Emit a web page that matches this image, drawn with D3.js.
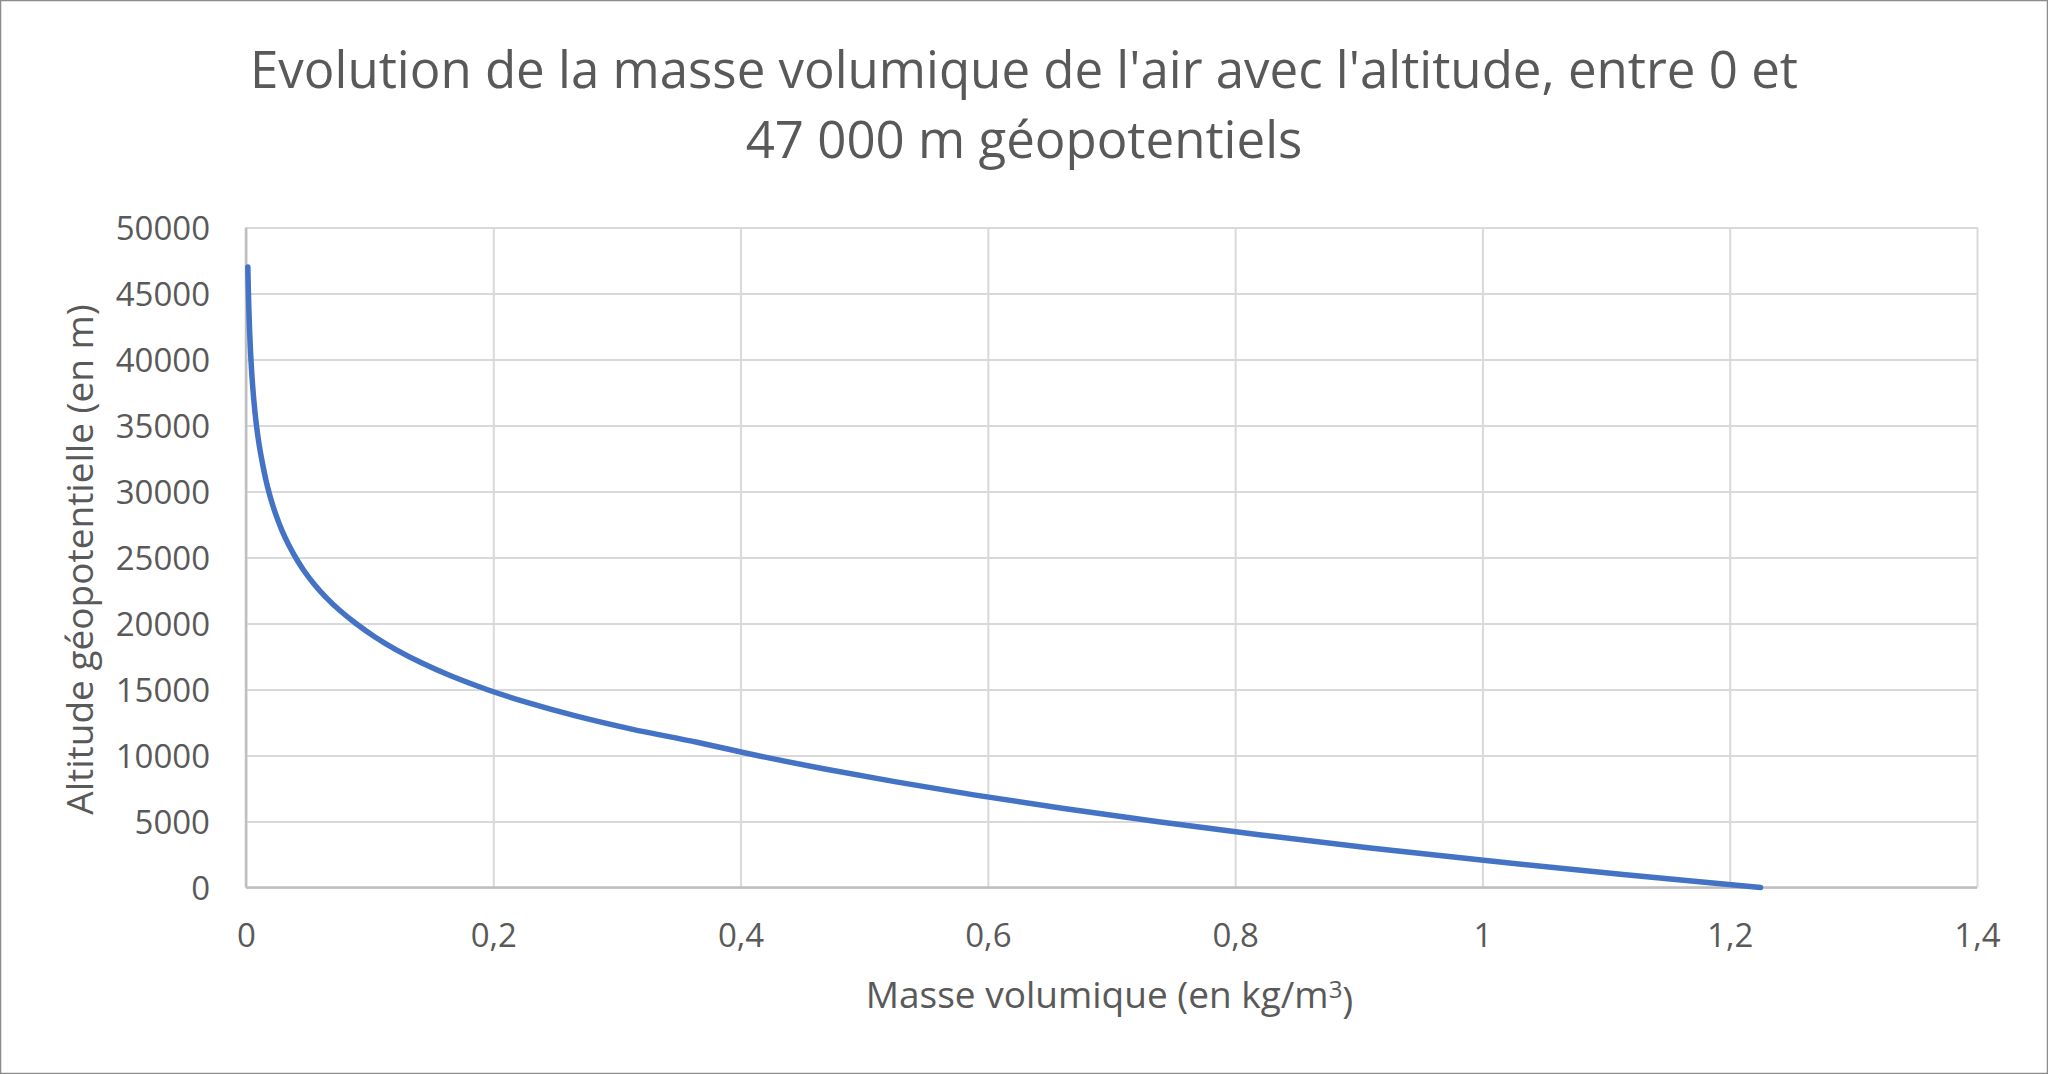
<!DOCTYPE html>
<html><head><meta charset="utf-8">
<script src="https://cdn.jsdelivr.net/npm/d3@7"></script>
<style>html,body{margin:0;padding:0;background:#fff;}svg{display:block;}</style>
</head><body>
<div id="chart"></div>
<script>
// Altitude géopotentielle (m)
const altitudes = [0,1000,2000,3000,4000,5000,6000,7000,8000,9000,10000,11000,12000,13000,14000,15000,16000,17000,18000,19000,20000,21000,22000,23000,24000,25000,26000,27000,28000,29000,30000,31000,32000,33000,34000,35000,36000,37000,38000,39000,40000,41000,42000,43000,44000,45000,46000,47000];
// Masse volumique (kg/m3)
const densities = [1.2250,1.1117,1.0066,0.9093,0.8194,0.7364,0.6601,0.5900,0.5258,0.4671,0.4135,0.3648,0.3119,0.2666,0.2279,0.1948,0.1665,0.1423,0.1216,0.1040,0.0889,0.0757,0.0645,0.0550,0.0469,0.0401,0.0343,0.0293,0.0251,0.0215,0.0184,0.0158,0.0136,0.0116,0.00989,0.00846,0.00726,0.00624,0.00537,0.00463,0.00400,0.00346,0.00299,0.00260,0.00226,0.00197,0.00171,0.00149];
const xTicks = [0,0.2,0.4,0.6,0.8,1,1.2,1.4];
const yTicks = [0,5000,10000,15000,20000,25000,30000,35000,40000,45000,50000];
const titleLines = ["Evolution de la masse volumique de l'air avec l'altitude, entre 0 et","47 000 m géopotentiels"];
const xTitle = "Masse volumique (en kg/m";
const yTitle = "Altitude géopotentielle (en m)";

const W = 2048, H = 1074;
const FONT = "'Open Sans', sans-serif";
const TXT = "#595959";
const svg = d3.select("#chart").append("svg").attr("width", W).attr("height", H);
svg.append("rect").attr("x",0.5).attr("y",0.5).attr("width",W-1).attr("height",H-1)
  .attr("fill","#fff").attr("stroke","#8c8c8c").attr("stroke-width",1.5);

const L = 246, R = 1977, T = 227.5, B = 887.5;
const x = d3.scaleLinear().domain([0,1.4]).range([L,R]);
const y = d3.scaleLinear().domain([0,50000]).range([B,T]);
const fmtX = d => d3.format("")(d).replace(".", ",");

// gridlines
const gx = svg.append("g").attr("transform",`translate(0,${B})`)
  .call(d3.axisBottom(x).tickValues(xTicks).tickSize(-(B-T)).tickFormat(fmtX).tickPadding(30));
gx.select(".domain").remove();
gx.selectAll(".tick line").attr("stroke","#d9d9d9").attr("stroke-width",2);
gx.selectAll(".tick text").attr("fill",TXT).style("font-family",FONT).style("font-size","33px").attr("dy","0.88em");

const gy = svg.append("g").attr("transform",`translate(${L},0)`)
  .call(d3.axisLeft(y).tickValues(yTicks).tickSize(-(R-L)).tickFormat(d3.format("d")).tickPadding(36));
gy.select(".domain").remove();
gy.selectAll(".tick line").attr("stroke","#d9d9d9").attr("stroke-width",2);
gy.selectAll(".tick text").attr("fill",TXT).style("font-family",FONT).style("font-size","33px").attr("dy","0.36em");

// axis lines
svg.append("line").attr("x1",L).attr("x2",L).attr("y1",T).attr("y2",B).attr("stroke","#bfbfbf").attr("stroke-width",2.5);
svg.append("line").attr("x1",L).attr("x2",R).attr("y1",B).attr("y2",B).attr("stroke","#bfbfbf").attr("stroke-width",2.5);

// line
const pts = altitudes.map((a,i)=>({a, d: densities[i]}));
svg.append("path").datum(pts)
  .attr("fill","none").attr("stroke","#4472C4").attr("stroke-width",5.5)
  .attr("stroke-linecap","round").attr("stroke-linejoin","round")
  .attr("d", d3.line().x(p=>x(p.d)).y(p=>y(p.a)).curve(d3.curveCatmullRom.alpha(0.5)));

// title
svg.append("g").selectAll("text").data(titleLines).join("text")
  .attr("x", 1024).attr("y",(d,i)=>88 + i*70).attr("text-anchor","middle")
  .attr("fill",TXT).style("font-family",FONT).style("font-size","51px").text(d=>d);

// x title
const xt = svg.append("text").attr("x",(L+R)/2 - 2).attr("y",1008).attr("text-anchor","middle")
  .attr("fill",TXT).style("font-family",FONT).style("font-size","37px");
xt.append("tspan").text(xTitle);
xt.append("tspan").attr("dy","-0.4em").style("font-size","24px").text("3");
xt.append("tspan").attr("dy","0.4em").text(")");

// y title
svg.append("text").attr("transform",`translate(93,${(T+B)/2 + 2}) rotate(-90)`).attr("text-anchor","middle")
  .attr("fill",TXT).style("font-family",FONT).style("font-size","37px").text(yTitle);
</script>
</body></html>
